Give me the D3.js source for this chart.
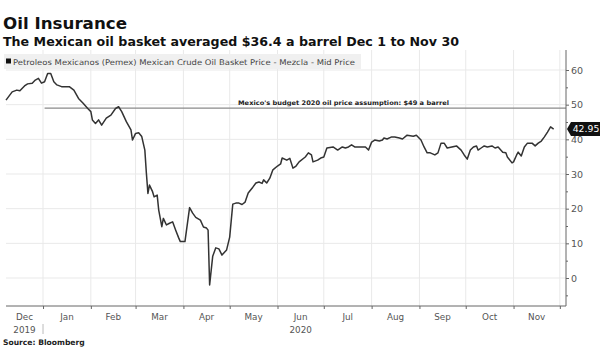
<!DOCTYPE html>
<html><head><meta charset="utf-8">
<script src="https://cdn.jsdelivr.net/npm/d3@7/dist/d3.min.js"></script>
<style>
html,body{margin:0;padding:0;background:#fff;}
svg{display:block;}
</style></head>
<body><svg id="c" width="607" height="355"></svg>
<script>
const titleText = "Oil Insurance";
const subtitleText = "The Mexican oil basket averaged $36.4 a barrel Dec 1 to Nov 30";
const legendText = "Petroleos Mexicanos (Pemex) Mexican Crude Oil Basket Price - Mezcla - Mid Price";
const annotationText = "Mexico's budget 2020 oil price assumption: $49 a barrel";
const sourceText = "Source: Bloomberg";

const dates = ["2019-12-08","2019-12-12","2019-12-15","2019-12-17","2019-12-20","2019-12-22","2019-12-25","2019-12-27","2019-12-29","2019-12-31",
"2020-01-02","2020-01-04","2020-01-06","2020-01-08","2020-01-10","2020-01-13","2020-01-18","2020-01-21","2020-01-24","2020-01-27","2020-01-30",
"2020-02-01","2020-02-02","2020-02-04","2020-02-06","2020-02-08","2020-02-11","2020-02-14","2020-02-17","2020-02-19","2020-02-21","2020-02-24","2020-02-27","2020-02-28",
"2020-03-01","2020-03-03","2020-03-05","2020-03-07","2020-03-08","2020-03-09","2020-03-10","2020-03-12","2020-03-13","2020-03-15","2020-03-16","2020-03-18","2020-03-19","2020-03-21","2020-03-23","2020-03-25","2020-03-27","2020-03-29","2020-03-30",
"2020-04-02","2020-04-05","2020-04-07","2020-04-09","2020-04-12","2020-04-14","2020-04-16","2020-04-17","2020-04-18","2020-04-20","2020-04-22","2020-04-24","2020-04-26","2020-04-29",
"2020-05-01","2020-05-03","2020-05-05","2020-05-07","2020-05-09","2020-05-11","2020-05-13","2020-05-16","2020-05-18","2020-05-20","2020-05-22","2020-05-23","2020-05-25","2020-05-27","2020-05-29",
"2020-06-01","2020-06-03","2020-06-04","2020-06-07","2020-06-09","2020-06-11","2020-06-13","2020-06-15","2020-06-19","2020-06-21","2020-06-23","2020-06-24","2020-06-27","2020-06-29",
"2020-07-01","2020-07-03","2020-07-07","2020-07-10","2020-07-13","2020-07-15","2020-07-17","2020-07-19","2020-07-21","2020-07-24","2020-07-28","2020-07-30",
"2020-08-01","2020-08-03","2020-08-06","2020-08-08","2020-08-09","2020-08-11","2020-08-14","2020-08-16","2020-08-19","2020-08-21","2020-08-24","2020-08-28","2020-08-30",
"2020-09-02","2020-09-04","2020-09-06","2020-09-08","2020-09-11","2020-09-13","2020-09-15","2020-09-17","2020-09-19","2020-09-22","2020-09-25","2020-09-28","2020-09-30",
"2020-10-02","2020-10-04","2020-10-06","2020-10-08","2020-10-09","2020-10-11","2020-10-13","2020-10-15","2020-10-18","2020-10-20","2020-10-22","2020-10-25","2020-10-27","2020-10-28","2020-10-31",
"2020-11-01","2020-11-03","2020-11-04","2020-11-06","2020-11-08","2020-11-10","2020-11-13","2020-11-15","2020-11-17","2020-11-19","2020-11-21","2020-11-23","2020-11-25","2020-11-27"];

const prices = [51.3,53.7,54.2,54.0,55.4,56.0,56.2,57.1,57.6,56.2,
56.6,59.0,59.0,56.6,55.7,55.2,55.2,54.2,51.8,50.4,48.9,
48.0,45.6,44.6,45.6,44.1,46.1,47.0,48.9,49.4,48.0,45.1,42.7,39.8,
41.7,41.9,40.8,36.9,30.2,24.4,26.8,24.9,23.4,23.9,19.6,14.8,17.2,15.3,15.8,16.2,13.8,11.5,10.5,
10.5,20.3,18.7,17.5,16.7,14.7,14.4,13.8,-2.0,6.3,8.7,8.4,6.6,8.1,
11.8,21.3,21.6,21.6,21.2,21.9,24.5,26.2,27.4,27.7,27.3,28.3,27.4,28.8,31.2,
32.3,32.9,34.6,34.0,34.5,31.7,32.3,33.5,34.9,36.1,35.5,33.5,34.0,34.6,
34.9,37.5,37.8,36.9,37.8,37.5,37.8,38.4,37.8,37.8,37.8,36.9,
39.2,39.8,39.5,39.8,40.4,40.1,40.7,40.7,40.4,40.1,41.2,40.9,41.2,
39.8,37.8,36.1,36.1,35.5,36.1,38.9,38.9,37.5,37.8,38.1,36.9,35.5,
34.3,36.9,37.8,38.1,36.9,37.5,38.1,37.8,38.1,37.5,37.8,36.3,36.1,34.9,33.2,
33.5,35.5,36.3,35.2,37.8,38.9,38.9,38.1,38.9,39.5,40.7,42.1,43.6,42.95];

const yTicks = [0,10,20,30,40,50,60];
const minorTicks = [-5,5,15,25,35,45,55];
const monthLabels = ["Dec","Jan","Feb","Mar","Apr","May","Jun","Jul","Aug","Sep","Oct","Nov"];
const yearLabels = [{label:"2019", month:"Dec"}, {label:"2020", month:"Jun"}];
const budgetValue = 49;
const lastLabel = "42.95";

(function(){
const parse = d3.timeParse("%Y-%m-%d");
const data = dates.map((d,i)=>({date:parse(d), value:prices[i]}));

const svg = d3.select("#c");
const pL = 6, pR = 566, pT = 50, pB = 306;
const x = d3.scaleTime().domain([parse("2019-12-08"), parse("2020-12-05")]).range([pL, pR]);
const y = d3.scaleLinear().domain([0, 60]).range([278, 70]);

// titles
svg.append("text").attr("x",3).attr("y",29).text(titleText)
  .attr("font-family","DejaVu Sans").attr("font-weight","bold").attr("font-size",16.5).attr("fill","#111")
  .attr("textLength",124).attr("lengthAdjust","spacingAndGlyphs");
svg.append("text").attr("x",3).attr("y",46).text(subtitleText)
  .attr("font-family","DejaVu Sans").attr("font-weight","bold").attr("font-size",11.5).attr("fill","#111")
  .attr("textLength",456).attr("lengthAdjust","spacingAndGlyphs");

// gridlines
const monthStarts = d3.timeMonth.range(parse("2020-01-01"), parse("2020-12-02"));
svg.append("g").selectAll("line").data(monthStarts).join("line")
  .attr("x1",d=>x(d)).attr("x2",d=>x(d)).attr("y1",pT).attr("y2",pB)
  .attr("stroke","#e9e9e9").attr("stroke-width",1);
svg.append("g").selectAll("line").data(yTicks).join("line")
  .attr("x1",pL).attr("x2",pR).attr("y1",d=>y(d)).attr("y2",d=>y(d))
  .attr("stroke","#e9e9e9").attr("stroke-width",1);

// legend band
svg.append("rect").attr("x",4).attr("y",54).attr("width",357).attr("height",15).attr("fill","#f0f0f0");
svg.append("rect").attr("x",6).attr("y",58.5).attr("width",5).attr("height",5).attr("fill","#111");
svg.append("text").attr("x",13).attr("y",64.5).text(legendText)
  .attr("font-family","DejaVu Sans").attr("font-size",7.8).attr("fill","#444")
  .attr("textLength",342).attr("lengthAdjust","spacingAndGlyphs");

// budget line
svg.append("line").attr("x1",x(parse("2020-01-02"))).attr("x2",pR)
  .attr("y1",y(budgetValue)).attr("y2",y(budgetValue)).attr("stroke","#8a8a8a").attr("stroke-width",1.3);
svg.append("text").attr("x",449).attr("y",y(budgetValue)-3).attr("text-anchor","end").text(annotationText)
  .attr("font-family","DejaVu Sans").attr("font-weight","bold").attr("font-size",6.3).attr("fill","#222")
  .attr("textLength",211).attr("lengthAdjust","spacingAndGlyphs");

// price line
const line = d3.line().x(d=>x(d.date)).y(d=>y(d.value)).curve(d3.curveLinear);
svg.append("path").datum(data).attr("d",line).attr("fill","none")
  .attr("stroke","#333").attr("stroke-width",1.5).attr("stroke-linejoin","round");

// y axis (right)
const gy = svg.append("g").attr("transform",`translate(${pR},0)`);
gy.append("line").attr("x1",0).attr("x2",0).attr("y1",pT).attr("y2",pB).attr("stroke","#666").attr("stroke-width",1);
gy.append("g").call(d3.axisRight(y).tickValues(minorTicks).tickSize(2).tickFormat(""))
  .call(g=>g.select(".domain").remove());
gy.append("g").call(d3.axisRight(y).tickValues(yTicks).tickSize(3).tickPadding(2).tickFormat(d3.format("d")))
  .call(g=>g.select(".domain").remove())
  .call(g=>g.selectAll("text").attr("font-family","DejaVu Sans").attr("font-size",9.5).attr("fill","#555"));
gy.selectAll(".tick line").attr("stroke","#666");

// x axis
const gx = svg.append("g").attr("transform",`translate(0,${pB})`);
gx.append("line").attr("x1",pL).attr("x2",pR).attr("stroke","#666");
gx.append("g").call(d3.axisBottom(x).tickValues(monthStarts).tickSize(3).tickFormat(""))
  .call(g=>g.select(".domain").remove());
gx.selectAll(".tick line").attr("stroke","#666");

const mStartsAll = [parse("2019-12-01"), ...monthStarts];
const labelPos = monthLabels.map((m,i)=>{
  const a = Math.max(x(mStartsAll[i]), pL), b = Math.min(x(mStartsAll[i+1]), pR);
  return {m, cx:(a+b)/2};
});
svg.append("g").selectAll("text").data(labelPos).join("text")
  .attr("x",d=>d.cx).attr("y",320).attr("text-anchor","middle").text(d=>d.m)
  .attr("font-family","DejaVu Sans").attr("font-size",8.8).attr("fill","#555");
svg.append("g").selectAll("text").data(yearLabels).join("text")
  .attr("x",d=>labelPos.find(p=>p.m===d.month).cx).attr("y",333).attr("text-anchor","middle").text(d=>d.label)
  .attr("font-family","DejaVu Sans").attr("font-size",8.8).attr("fill","#555");
svg.append("line").attr("x1",x(parse("2020-01-01"))).attr("x2",x(parse("2020-01-01")))
  .attr("y1",324).attr("y2",334).attr("stroke","#bbb");

// source
svg.append("text").attr("x",3).attr("y",345).text(sourceText)
  .attr("font-family","DejaVu Sans").attr("font-weight","bold").attr("font-size",7.6).attr("fill","#222");

// last value tag
const ly = y(prices[prices.length-1]);
svg.append("path").attr("d",`M${pR+1},${ly} L${pR+5},${ly-7} L${pR+34},${ly-7} L${pR+34},${ly+7} L${pR+5},${ly+7} Z`)
  .attr("fill","#111");
svg.append("text").attr("x",pR+20).attr("y",ly+3.3).attr("text-anchor","middle").text(lastLabel)
  .attr("font-family","DejaVu Sans").attr("font-size",9.3).attr("fill","#fff");
})();
</script></body></html>
